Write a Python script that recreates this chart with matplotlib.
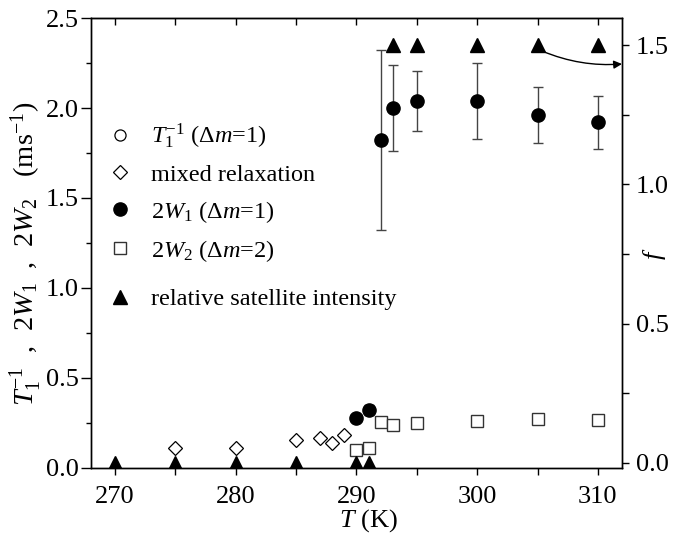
import matplotlib
matplotlib.use("Agg")
import matplotlib.pyplot as plt
from matplotlib.lines import Line2D
from matplotlib.ticker import MultipleLocator

plt.rcParams['font.family'] = ['Liberation Serif', 'DejaVu Serif']
plt.rcParams['mathtext.fontset'] = 'custom'
plt.rcParams['mathtext.rm'] = 'Liberation Serif'
plt.rcParams['mathtext.it'] = 'Liberation Serif:italic'
plt.rcParams['mathtext.bf'] = 'Liberation Serif:bold'
plt.rcParams['font.size'] = 19

# ---- data ----
mixed_T = [275, 280, 285, 287, 288, 289]
mixed_v = [0.113, 0.113, 0.154, 0.167, 0.139, 0.182]

w1_T = [290, 291, 292, 293, 295, 300, 305, 310]
w1_v = [0.276, 0.322, 1.82, 2.00, 2.04, 2.04, 1.96, 1.92]
w1_err = [0.0, 0.03, 0.50, 0.24, 0.167, 0.21, 0.155, 0.148]

w2_T = [290, 291, 292, 293, 295, 300, 305, 310]
w2_v = [0.100, 0.111, 0.254, 0.237, 0.252, 0.259, 0.272, 0.268]

sat_T = [270, 275, 280, 285, 290, 291, 293, 295, 300, 305, 310]
sat_f = [0, 0, 0, 0, 0, 0, 1.5, 1.5, 1.5, 1.5, 1.5]

fig = plt.figure(figsize=(6.8, 5.33), dpi=100)
ax = fig.add_axes([0.1338, 0.122, 0.7809, 0.8442])
ax2 = ax.twinx()

ax.set_xlim(268.0, 312.0)
ax.set_ylim(0, 2.5)
ax2.set_ylim(-0.018, 1.597)

ms_c = 9.5
ms_d = 7.0
ax.plot(mixed_T, mixed_v, linestyle='none', marker='D', ms=ms_d, mfc='white',
        mec='black', mew=0.9, zorder=3)
ax.plot(w2_T, w2_v, linestyle='none', marker='s', ms=8.2, mfc='white',
        mec='#333333', mew=1.0, zorder=3)
ax.errorbar(w1_T, w1_v, yerr=w1_err, linestyle='none', marker='o', ms=ms_c,
            mfc='black', mec='black', ecolor='#444444', elinewidth=1.0,
            capsize=3.3, capthick=1.0, zorder=4)
ax2.plot(sat_T, sat_f, linestyle='none', marker='^', ms=9.5, mfc='black',
         mec='black', zorder=4)

ax2.annotate('', xy=(312.0, 1.432), xytext=(305.4, 1.478),
             xycoords='data', textcoords='data',
             arrowprops=dict(arrowstyle='-|>', color='black', lw=1.0,
                             mutation_scale=12, shrinkA=0, shrinkB=0,
                             connectionstyle='arc3,rad=0.12'))

# ticks
ax.xaxis.set_major_locator(MultipleLocator(10))
ax.xaxis.set_minor_locator(MultipleLocator(5))
ax.yaxis.set_major_locator(MultipleLocator(0.5))
ax.yaxis.set_minor_locator(MultipleLocator(0.25))
ax2.yaxis.set_major_locator(MultipleLocator(0.5))
ax2.yaxis.set_minor_locator(MultipleLocator(0.25))
ax.tick_params(axis='x', which='both', direction='out', length=5, width=1.0,
               top=False, pad=8)
ax.tick_params(axis='y', which='major', direction='out', length=7, width=1.0, pad=2)
ax.tick_params(axis='y', which='minor', direction='out', length=3.5, width=1.0)
ax2.tick_params(axis='y', which='both', direction='out', length=5, width=1.0, pad=5)
ax.set_yticklabels([f"{v:.1f}" for v in ax.get_yticks()])
ax2.set_yticklabels([f"{v:.1f}" for v in ax2.get_yticks()])
secx = ax.secondary_xaxis('top')
secx.xaxis.set_major_locator(MultipleLocator(5))
secx.tick_params(direction='in', length=5, width=1.0, labeltop=False)
for a in (ax, ax2):
    for s in a.spines.values():
        s.set_linewidth(1.0)

ax.set_xlabel(r'$T$ (K)')
ax.xaxis.set_label_coords(0.522, -0.086)
ax.set_ylabel(r'$T_1^{-1}$  ,  $2W_1$  ,  $2W_2$   (ms$^{-1}$)', fontsize=20.5)
ax.yaxis.set_label_coords(-0.088, 0.476)
ax2.set_ylabel(r'$f$')
ax2.yaxis.set_label_coords(1.036, 0.475)

fs_leg = 17.5
handles1 = [
    Line2D([], [], linestyle='none', marker='o', ms=8, mfc='white', mec='black', mew=0.9),
    Line2D([], [], linestyle='none', marker='D', ms=ms_d, mfc='white', mec='black', mew=0.9),
    Line2D([], [], linestyle='none', marker='o', ms=ms_c, mfc='black', mec='black'),
    Line2D([], [], linestyle='none', marker='s', ms=8.2, mfc='white', mec='#333333', mew=1.0),
]
labels1 = [r'$T_1^{-1}$ ($\Delta m$=1)', 'mixed relaxation',
           r'$2W_1$ ($\Delta m$=1)', r'$2W_2$ ($\Delta m$=2)']
leg1 = ax.legend(handles1, labels1, loc='upper left',
                 bbox_to_anchor=(110 / 680, 1 - 122 / 533),
                 bbox_transform=fig.transFigure, frameon=False, fontsize=fs_leg,
                 handlelength=0.8, handletextpad=0.9, labelspacing=0.53,
                 borderpad=0, borderaxespad=0)
ax.add_artist(leg1)
handles2 = [Line2D([], [], linestyle='none', marker='^', ms=9.5, mfc='black', mec='black')]
ax.legend(handles2, ['relative satellite intensity'], loc='upper left',
          bbox_to_anchor=(110 / 680, 1 - 288 / 533),
          bbox_transform=fig.transFigure, frameon=False, fontsize=fs_leg,
          handlelength=0.8, handletextpad=0.9, borderpad=0, borderaxespad=0)

fig.savefig('out.png', dpi=100)
